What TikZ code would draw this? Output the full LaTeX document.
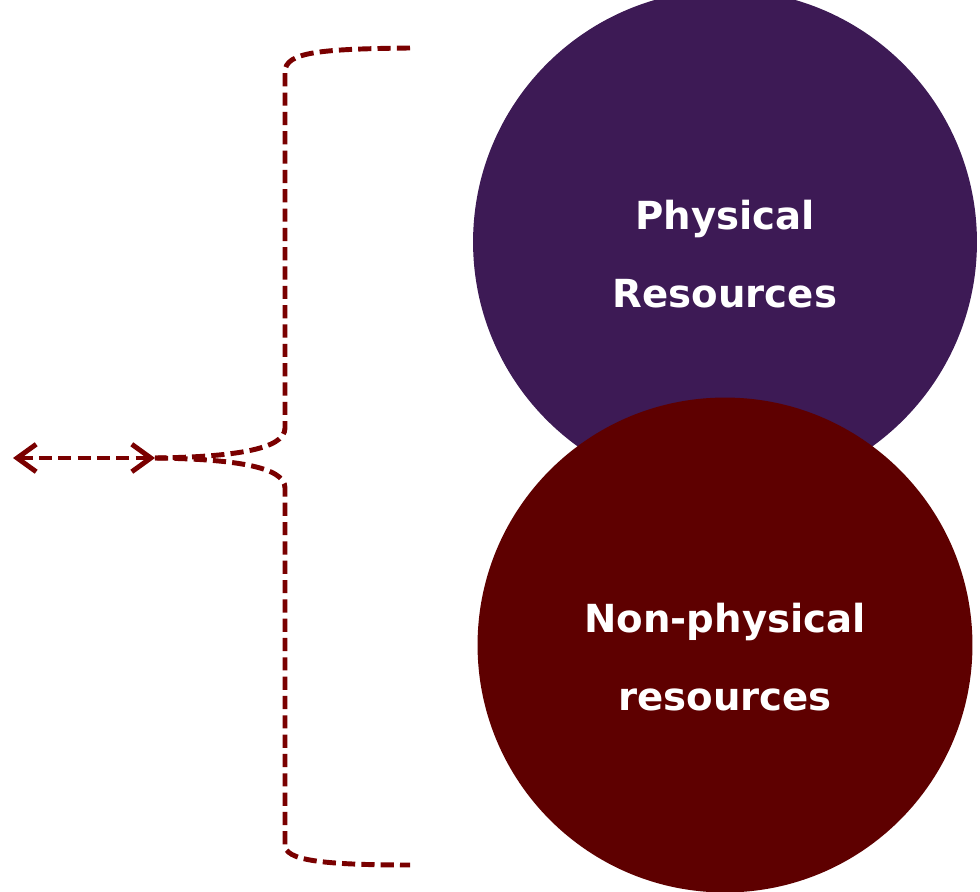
\documentclass[tikz,border=0pt]{standalone}
\usepackage{fontspec}
\setsansfont{DejaVu Sans}
\usepackage{tikz}
\usetikzlibrary{arrows.meta}
\definecolor{plum}{HTML}{3D1A55}
\definecolor{maroon}{HTML}{5E0000}
\definecolor{bracered}{HTML}{7A0000}

\begin{document}
\begin{tikzpicture}[x=0.02cm,y=-0.02cm,
	every node/.style={font=\sffamily\bfseries\fontsize{22}{44}\selectfont, text=white, align=center},
	dashline/.style={draw=bracered, line width=2.8pt, dash pattern=on 7.5pt off 3.5pt}]
	\useasboundingbox (0,0) rectangle (980,892);
	\node[circle, fill=plum, minimum size=10.08cm, inner sep=0pt] (phys) at (725,242) {};
	\node[circle, fill=maroon, minimum size=9.9cm, inner sep=0pt] (nonphys) at (725,645) {};
	\node (physlabel) at ([yshift=-0.24cm]phys.center) {Physical\\Resources};
	\node (nonphyslabel) at ([yshift=-0.24cm]nonphys.center) {Non-physical\\resources};
	\coordinate (tip) at (155,458);
	\coordinate (far) at (13,458);
	\coordinate (top) at (410,48);
	\coordinate (bot) at (410,865);
	\draw[dashline] (top) .. controls (320,49) and (285,52) .. (285,72) -- (285,428) .. controls (285,450) and (230,457) .. (tip);
	\draw[dashline] (tip) .. controls (230,459) and (285,466) .. (285,488) -- (285,845) .. controls (285,860) and (320,865) .. (bot);
	\draw[dashline, {Straight Barb[length=3.8mm,width=5.5mm]}-{Straight Barb[length=3.8mm,width=5.5mm]}] (far) -- (tip);
\end{tikzpicture}
\end{document}
